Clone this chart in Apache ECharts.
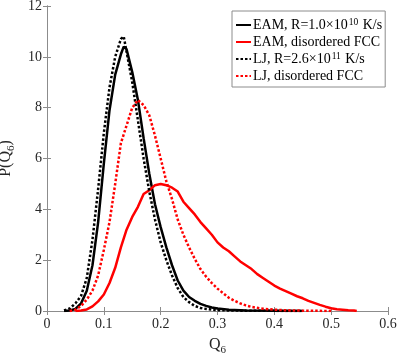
<!DOCTYPE html>
<html>
<head>
<meta charset="utf-8">
<script src="https://cdn.jsdelivr.net/npm/echarts@6/dist/echarts.min.js"></script>
<style>
html, body { margin: 0; padding: 0; background: #fff; }
#chart { width: 399px; height: 359px; }
</style>
</head>
<body>
<div id="chart"></div>
<script>
// Q6 distributions, [Q6, P(Q6)]
var eamFast = [[0.03,0],[0.04,0.02],[0.05,0.08],[0.06,0.3],[0.07,0.8],[0.08,1.8],[0.09,3.5],[0.10,5.8],[0.11,7.9],[0.12,9.3],[0.13,10.1],[0.135,10.4],[0.14,10.3],[0.15,9.4],[0.16,8.3],[0.17,6.8],[0.18,5.4],[0.19,4.2],[0.20,3.3],[0.21,2.5],[0.22,1.8],[0.23,1.2],[0.24,0.8],[0.25,0.55],[0.26,0.4],[0.27,0.28],[0.28,0.2],[0.29,0.14],[0.30,0.1],[0.32,0.05],[0.35,0.02],[0.40,0.01],[0.45,0]];
var eamFcc = [[0.05,0],[0.06,0.02],[0.07,0.06],[0.08,0.18],[0.09,0.38],[0.10,0.65],[0.11,1.1],[0.12,1.7],[0.13,2.5],[0.14,3.2],[0.15,3.7],[0.16,4.1],[0.17,4.6],[0.18,4.75],[0.19,4.95],[0.20,5.0],[0.21,4.95],[0.22,4.85],[0.23,4.7],[0.24,4.3],[0.25,4.05],[0.26,3.8],[0.27,3.5],[0.28,3.25],[0.29,3.0],[0.30,2.7],[0.31,2.5],[0.32,2.35],[0.33,2.15],[0.34,1.95],[0.35,1.8],[0.36,1.65],[0.37,1.45],[0.38,1.3],[0.39,1.15],[0.40,1.0],[0.41,0.88],[0.42,0.78],[0.43,0.68],[0.44,0.58],[0.45,0.5],[0.46,0.4],[0.47,0.32],[0.48,0.24],[0.49,0.17],[0.50,0.11],[0.51,0.07],[0.52,0.05],[0.53,0.03],[0.54,0.02],[0.545,0]];
var ljFast = [[0.03,0.02],[0.04,0.1],[0.05,0.3],[0.06,0.6],[0.07,1.3],[0.08,2.8],[0.09,4.8],[0.10,7.0],[0.11,8.8],[0.12,10.0],[0.13,10.7],[0.135,10.8],[0.14,10.2],[0.15,9.0],[0.16,7.5],[0.17,6.0],[0.18,4.7],[0.19,3.6],[0.20,2.7],[0.21,2.0],[0.22,1.4],[0.23,0.9],[0.24,0.55],[0.25,0.35],[0.26,0.2],[0.27,0.12],[0.28,0.08],[0.30,0.03],[0.35,0.01],[0.45,0]];
var ljFcc = [[0.04,0],[0.05,0.05],[0.06,0.2],[0.07,0.45],[0.08,0.8],[0.09,1.4],[0.10,2.4],[0.11,3.5],[0.12,5.0],[0.13,6.6],[0.14,7.3],[0.15,8.0],[0.16,8.3],[0.17,8.1],[0.18,7.7],[0.19,6.9],[0.20,6.0],[0.21,5.1],[0.22,4.4],[0.23,3.6],[0.24,3.0],[0.25,2.5],[0.26,2.05],[0.27,1.65],[0.28,1.35],[0.29,1.1],[0.30,0.88],[0.31,0.7],[0.32,0.52],[0.33,0.4],[0.34,0.3],[0.35,0.22],[0.36,0.16],[0.38,0.09],[0.40,0.05],[0.43,0.02],[0.46,0.01],[0.50,0]];

var seriesNames = ['EAM, R=1.0×10^10 K/s', 'EAM, disordered FCC', 'LJ, R=2.6×10^11 K/s', 'LJ, disordered FCC'];
var legendLabels = {
    'EAM, R=1.0×10^10 K/s': '{t|EAM, R=1.0×10}{s|10}{t| K/s}',
    'EAM, disordered FCC': '{t|EAM, disordered FCC}',
    'LJ, R=2.6×10^11 K/s': '{t|LJ, R=2.6×10}{s|11}{t| K/s}',
    'LJ, disordered FCC': '{t|LJ, disordered FCC}'
};

var font = 'Liberation Serif';
var axisGrey = '#8c8c8c';
var textDark = '#262626';

var chart = echarts.init(document.getElementById('chart'));

function lineSeries(name, data, color, dotted) {
    return {
        name: name,
        type: 'line',
        data: data,
        symbol: 'none',
        xAxisIndex: 0,
        yAxisIndex: 0,
        color: color,
        lineStyle: {
            color: color,
            width: 2.5,
            type: dotted ? [2.5, 2] : 'solid'
        },
        z: dotted ? 3 : 2
    };
}

var boxAxis = {
    axisLine: { show: true, lineStyle: { color: axisGrey, width: 1 } },
    axisTick: { show: true, inside: true, length: 4, lineStyle: { color: axisGrey } },
    splitLine: { show: false }
};

var option = {
    animation: false,
    backgroundColor: '#fff',
    grid: { left: 47, right: 11, top: 6, bottom: 48, containLabel: false, outerBoundsMode: 'none' },
    legend: {
        data: seriesNames,
        left: 232,
        top: 11,
        orient: 'vertical',
        itemWidth: 15,
        itemHeight: 10,
        itemGap: 2,
        padding: [6, 3, 4, 3],
        borderColor: axisGrey,
        borderWidth: 1,
        backgroundColor: '#fff',
        itemStyle: { opacity: 0 },
        formatter: function (name) { return legendLabels[name]; },
        textStyle: {
            padding: [0, 0, 0, -3],
            rich: {
                t: { fontFamily: font, fontSize: 14, color: '#000', lineHeight: 16 },
                s: { fontFamily: font, fontSize: 9.5, color: '#000', verticalAlign: 'top', lineHeight: 16, padding: [0, 1, 6, 1] }
            }
        }
    },
    xAxis: [Object.assign({
        type: 'value',
        min: 0,
        max: 0.6,
        interval: 0.1,
        position: 'bottom',
        name: '{a|Q}{b|6}',
        nameLocation: 'middle',
        nameGap: 22,
        nameTextStyle: {
            rich: {
                a: { fontFamily: font, fontSize: 16, color: textDark },
                b: { fontFamily: font, fontSize: 11, color: textDark, verticalAlign: 'top', padding: [12, 0, 0, 0] }
            }
        },
        axisLabel: { fontFamily: font, fontSize: 14, color: textDark, margin: 6,
            formatter: function (v) { return v === 0 ? '0' : v.toFixed(1); } }
    }, boxAxis), Object.assign({
        type: 'value',
        min: 0,
        max: 0.6,
        interval: 0.1,
        position: 'top',
        axisLabel: { show: false }
    }, boxAxis)],
    yAxis: [Object.assign({
        type: 'value',
        min: 0,
        max: 12,
        interval: 2,
        position: 'left',
        name: '{a|P(Q}{b|6}{a|)}',
        nameLocation: 'middle',
        nameRotate: 90,
        nameGap: 28,
        nameTextStyle: {
            rich: {
                a: { fontFamily: font, fontSize: 16, color: textDark },
                b: { fontFamily: font, fontSize: 11, color: textDark, padding: [12, 0, 0, 0] }
            }
        },
        axisLabel: { fontFamily: font, fontSize: 14, color: textDark, margin: 5 }
    }, boxAxis), Object.assign({
        type: 'value',
        min: 0,
        max: 12,
        interval: 2,
        position: 'right',
        axisLabel: { show: false }
    }, boxAxis)],
    series: [
        lineSeries(seriesNames[0], eamFast, '#000000', false),
        lineSeries(seriesNames[1], eamFcc, '#ff0000', false),
        lineSeries(seriesNames[2], ljFast, '#000000', true),
        lineSeries(seriesNames[3], ljFcc, '#ff0000', true)
    ]
};

chart.setOption(option);
</script>
</body>
</html>
